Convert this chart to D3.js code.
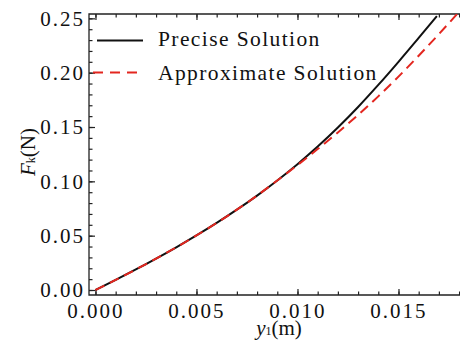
<!DOCTYPE html>
<html>
<head>
<meta charset="utf-8">
<script src="https://cdn.jsdelivr.net/npm/d3@7"></script>
<style>
  body { margin: 0; background: #fff; }
  svg text { font-family: "Liberation Serif", "Times New Roman", serif; }
  .tick text { font-size: 21px; letter-spacing: 2px; fill: #111; }
  .axis path.domain { display: none; }
  .axis line { stroke: #222; stroke-width: 1.2; }
</style>
</head>
<body>
<svg width="460" height="341"></svg>
<script>
// values
var y1Precise = [0, 0.001, 0.002, 0.003, 0.004, 0.005, 0.006, 0.007, 0.008, 0.009, 0.010, 0.011, 0.012, 0.013, 0.014, 0.015, 0.016, 0.0169];
var fPrecise  = [0, 0.0093, 0.0189, 0.0289, 0.0393, 0.0502, 0.0617, 0.0739, 0.0869, 0.1008, 0.1158, 0.1320, 0.1495, 0.1684, 0.1887, 0.2100, 0.2320, 0.2520];
var y1Approx  = [0, 0.001, 0.002, 0.003, 0.004, 0.005, 0.006, 0.007, 0.008, 0.009, 0.010, 0.011, 0.012, 0.013, 0.014, 0.015, 0.016, 0.017, 0.018];
var fApprox   = [0, 0.0093, 0.0189, 0.0289, 0.0393, 0.0502, 0.0617, 0.0739, 0.0869, 0.1008, 0.1150, 0.1297, 0.1450, 0.1611, 0.1782, 0.1964, 0.2156, 0.2355, 0.2560];
var xTicks = [0, 0.005, 0.010, 0.015];
var yTicks = [0, 0.05, 0.10, 0.15, 0.20, 0.25];
var seriesNames = ["Precise Solution", "Approximate Solution"];

var svg = d3.select("svg"),
    margin = {top: 14, right: 0, bottom: 46, left: 89},
    width = svg.attr("width") - margin.left - margin.right,
    height = svg.attr("height") - margin.top - margin.bottom,
    g = svg.append("g").attr("transform", "translate(" + margin.left + "," + margin.top + ")");

var x = d3.scaleLinear()
    .domain([-0.00032, 0.018045])
    .range([0, width]);

var y = d3.scaleLinear()
    .domain([-0.0046, 0.254])
    .range([height, 0]);

var xMinor = d3.range(0, 0.0185, 0.001),
    yMinor = d3.range(0, 0.255, 0.01);

svg.append("defs").append("clipPath").attr("id", "clip")
  .append("rect").attr("width", width).attr("height", height);

// frame ticks, pointing inward
g.append("g").attr("class", "axis")
    .attr("transform", "translate(0," + height + ")")
    .call(d3.axisBottom(x).tickValues(xMinor).tickSize(-3.5).tickFormat(""));
g.append("g").attr("class", "axis")
    .attr("transform", "translate(0," + height + ")")
    .call(d3.axisBottom(x).tickValues(xTicks).tickSize(-6).tickSizeOuter(0)
      .tickPadding(8).tickFormat(d3.format(".3f")));
g.append("g").attr("class", "axis")
    .call(d3.axisTop(x).tickValues(xMinor).tickSize(-3.5).tickFormat(""));
g.append("g").attr("class", "axis")
    .call(d3.axisTop(x).tickValues(xTicks).tickSize(-6).tickFormat(""));

g.append("g").attr("class", "axis")
    .call(d3.axisLeft(y).tickValues(yMinor).tickSize(-3.5).tickFormat(""));
g.append("g").attr("class", "axis")
    .call(d3.axisLeft(y).tickValues(yTicks).tickSize(-6).tickSizeOuter(0)
      .tickPadding(4).tickFormat(d3.format(".2f")));

// frame (right side falls just outside the picture)
g.append("path")
    .attr("d", "M" + (width + 2) + ",0H0V" + height + "H" + (width + 2))
    .attr("fill", "none")
    .attr("stroke", "#222")
    .attr("stroke-width", 1.3);

var line = d3.line()
    .x(function(d) { return x(d[0]); })
    .y(function(d) { return y(d[1]); })
    .curve(d3.curveMonotoneX);

g.append("path")
    .datum(d3.zip(y1Precise, fPrecise))
    .attr("clip-path", "url(#clip)")
    .attr("fill", "none")
    .attr("stroke", "#111")
    .attr("stroke-width", 2)
    .attr("d", line);

g.append("path")
    .datum(d3.zip(y1Approx, fApprox))
    .attr("clip-path", "url(#clip)")
    .attr("fill", "none")
    .attr("stroke", "#e3261f")
    .attr("stroke-width", 2)
    .attr("stroke-dasharray", "10,6")
    .attr("d", line);

// legend
var legend = svg.append("g");
legend.append("line")
    .attr("x1", 97).attr("x2", 143).attr("y1", 40.5).attr("y2", 40.5)
    .attr("stroke", "#111").attr("stroke-width", 2);
legend.append("line")
    .attr("x1", 93).attr("x2", 143).attr("y1", 72.5).attr("y2", 72.5)
    .attr("stroke", "#e3261f").attr("stroke-width", 2)
    .attr("stroke-dasharray", "10,7");
legend.selectAll("text.leg")
    .data(seriesNames)
  .enter().append("text")
    .attr("class", "leg")
    .attr("x", 158)
    .attr("y", function(d, i) { return i ? 80 : 46; })
    .attr("font-size", 21.5)
    .attr("letter-spacing", 1.4)
    .attr("fill", "#111")
    .text(function(d) { return d; });

// axis titles
var xt = svg.append("text")
    .attr("x", 279).attr("y", 335)
    .attr("text-anchor", "middle")
    .attr("font-size", 21)
    .attr("fill", "#111");
xt.append("tspan").attr("font-style", "italic").text("y");
xt.append("tspan").attr("font-size", 12).text("1");
xt.append("tspan").text("(m)");

var yt = svg.append("text")
    .attr("transform", "translate(35,152) rotate(-90)")
    .attr("text-anchor", "middle")
    .attr("font-size", 21)
    .attr("fill", "#111");
yt.append("tspan").attr("font-style", "italic").text("F");
yt.append("tspan").attr("font-size", 12).text("k");
yt.append("tspan").text("(N)");
</script>
</body>
</html>
